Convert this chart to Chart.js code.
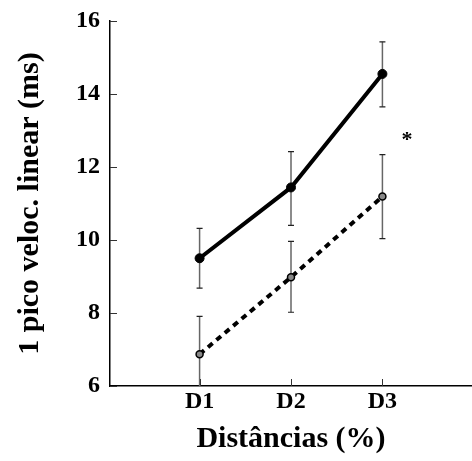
<!DOCTYPE html>
<html>
<head>
<meta charset="utf-8">
<script src="https://cdn.jsdelivr.net/npm/chart.js@4.4.1/dist/chart.umd.min.js"></script>
<style>
  html, body { margin: 0; padding: 0; background: #fff; }
  canvas { display: block; }
</style>
</head>
<body>
<canvas id="chart" width="472" height="461"></canvas>
<script>
// categories on the x axis (placed at 1, 2, 3)
const categories = ['D1', 'D2', 'D3'];
const catPos = [1, 2, 3];

// solid series (mean, lower, upper)
const solidMean  = [9.50, 11.44, 14.55];
const solidLow   = [8.68, 10.40, 13.65];
const solidHigh  = [10.32, 12.42, 15.43];

// dashed series
const dashedMean = [6.87, 8.98, 11.19];
const dashedLow  = [5.83, 8.02, 10.04];
const dashedHigh = [7.91, 9.96, 12.34];

const yTicks = [6, 8, 10, 12, 14, 16];
const starAt = { x: 3.27, y: 12.74 };

const serif = '"Liberation Serif", "DejaVu Serif", serif';

function pts(vals) {
  return vals.map((v, i) => ({ x: catPos[i], y: v }));
}

const errorBars = {
  id: 'errorBars',
  beforeDatasetsDraw(chart) {
    const { ctx, chartArea, scales: { x, y } } = chart;
    const sets = [[solidLow, solidHigh], [dashedLow, dashedHigh]];
    ctx.save();
    ctx.beginPath();
    ctx.rect(chartArea.left, chartArea.top - 2, chartArea.right - chartArea.left, chartArea.bottom - chartArea.top + 2);
    ctx.clip();
    sets.forEach(([lo, hi]) => {
      catPos.forEach((c, i) => {
        const px = x.getPixelForValue(c);
        const y1 = y.getPixelForValue(lo[i]);
        const y2 = y.getPixelForValue(hi[i]);
        ctx.strokeStyle = '#666';
        ctx.lineWidth = 1.5;
        ctx.beginPath();
        ctx.moveTo(px, y1);
        ctx.lineTo(px, y2);
        ctx.stroke();
        ctx.strokeStyle = '#222';
        ctx.lineWidth = 1.2;
        ctx.beginPath();
        ctx.moveTo(px - 3, y1); ctx.lineTo(px + 3, y1);
        ctx.moveTo(px - 3, y2); ctx.lineTo(px + 3, y2);
        ctx.stroke();
      });
    });
    ctx.restore();
  }
};

const innerTicks = {
  id: 'innerTicks',
  afterDraw(chart) {
    const { ctx, chartArea, scales: { x, y } } = chart;
    ctx.save();
    ctx.strokeStyle = '#333';
    ctx.lineWidth = 1;
    ctx.beginPath();
    yTicks.forEach(v => {
      const py = Math.round(y.getPixelForValue(v)) + 0.5;
      ctx.moveTo(chartArea.left, py);
      ctx.lineTo(chartArea.left + 7, py);
    });
    catPos.forEach(c => {
      const px = Math.round(x.getPixelForValue(c)) + 0.5;
      ctx.moveTo(px, chartArea.bottom);
      ctx.lineTo(px, chartArea.bottom - 7);
    });
    ctx.stroke();
    // significance mark
    ctx.fillStyle = '#000';
    ctx.font = 'bold 22px ' + serif;
    ctx.textAlign = 'center';
    ctx.textBaseline = 'middle';
    ctx.fillText('*', x.getPixelForValue(starAt.x), y.getPixelForValue(starAt.y));
    ctx.restore();
  }
};

new Chart(document.getElementById('chart').getContext('2d'), {
  type: 'line',
  data: {
    datasets: [
      {
        data: pts(solidMean),
        borderColor: '#000',
        borderWidth: 4,
        pointRadius: 4.5,
        pointBackgroundColor: '#000',
        pointBorderColor: '#000',
        pointBorderWidth: 1,
        tension: 0,
        fill: false
      },
      {
        data: pts(dashedMean),
        borderColor: '#000',
        borderWidth: 4,
        borderDash: [6, 5],
        pointRadius: 3.5,
        pointBackgroundColor: '#888',
        pointBorderColor: '#000',
        pointBorderWidth: 1.5,
        tension: 0,
        fill: false
      }
    ]
  },
  options: {
    responsive: false,
    animation: false,
    layout: { autoPadding: false, padding: { top: 21, right: 0, left: 0, bottom: 0 } },
    plugins: {
      legend: { display: false },
      tooltip: { enabled: false }
    },
    scales: {
      x: {
        type: 'linear',
        min: 0.02,
        max: 3.98,
        afterBuildTicks(scale) {
          scale.ticks = catPos.map(v => ({ value: v }));
        },
        afterFit(scale) {
          scale.height = 75;
          scale.paddingLeft = 0;
          scale.paddingRight = 0;
        },
        grid: { display: false, drawTicks: false },
        border: { display: true, color: '#000', width: 1.5 },
        ticks: {
          color: '#000',
          padding: 1,
          maxRotation: 0,
          font: { family: serif, size: 24, weight: 'bold' },
          callback: (v) => categories[catPos.indexOf(v)] || ''
        },
        title: {
          display: true,
          text: 'Distâncias (%)',
          color: '#000',
          padding: { top: 0, bottom: 4 },
          font: { family: serif, size: 30, weight: 'bold' }
        }
      },
      y: {
        min: 6,
        max: 16,
        afterBuildTicks(scale) {
          scale.ticks = yTicks.map(v => ({ value: v }));
        },
        afterFit(scale) {
          scale.width = 110;
          scale.paddingTop = 0;
          scale.paddingBottom = 0;
        },
        grid: { display: false, drawTicks: false },
        border: { display: true, color: '#000', width: 1.5 },
        ticks: {
          color: '#000',
          padding: 10,
          font: { family: serif, size: 24, weight: 'bold' }
        },
        title: {
          display: true,
          text: '1 pico veloc. linear (ms)',
          color: '#000',
          padding: { top: 12, bottom: 0 },
          font: { family: serif, size: 30, weight: 'bold' }
        }
      }
    }
  },
  plugins: [errorBars, innerTicks]
});
</script>
</body>
</html>
